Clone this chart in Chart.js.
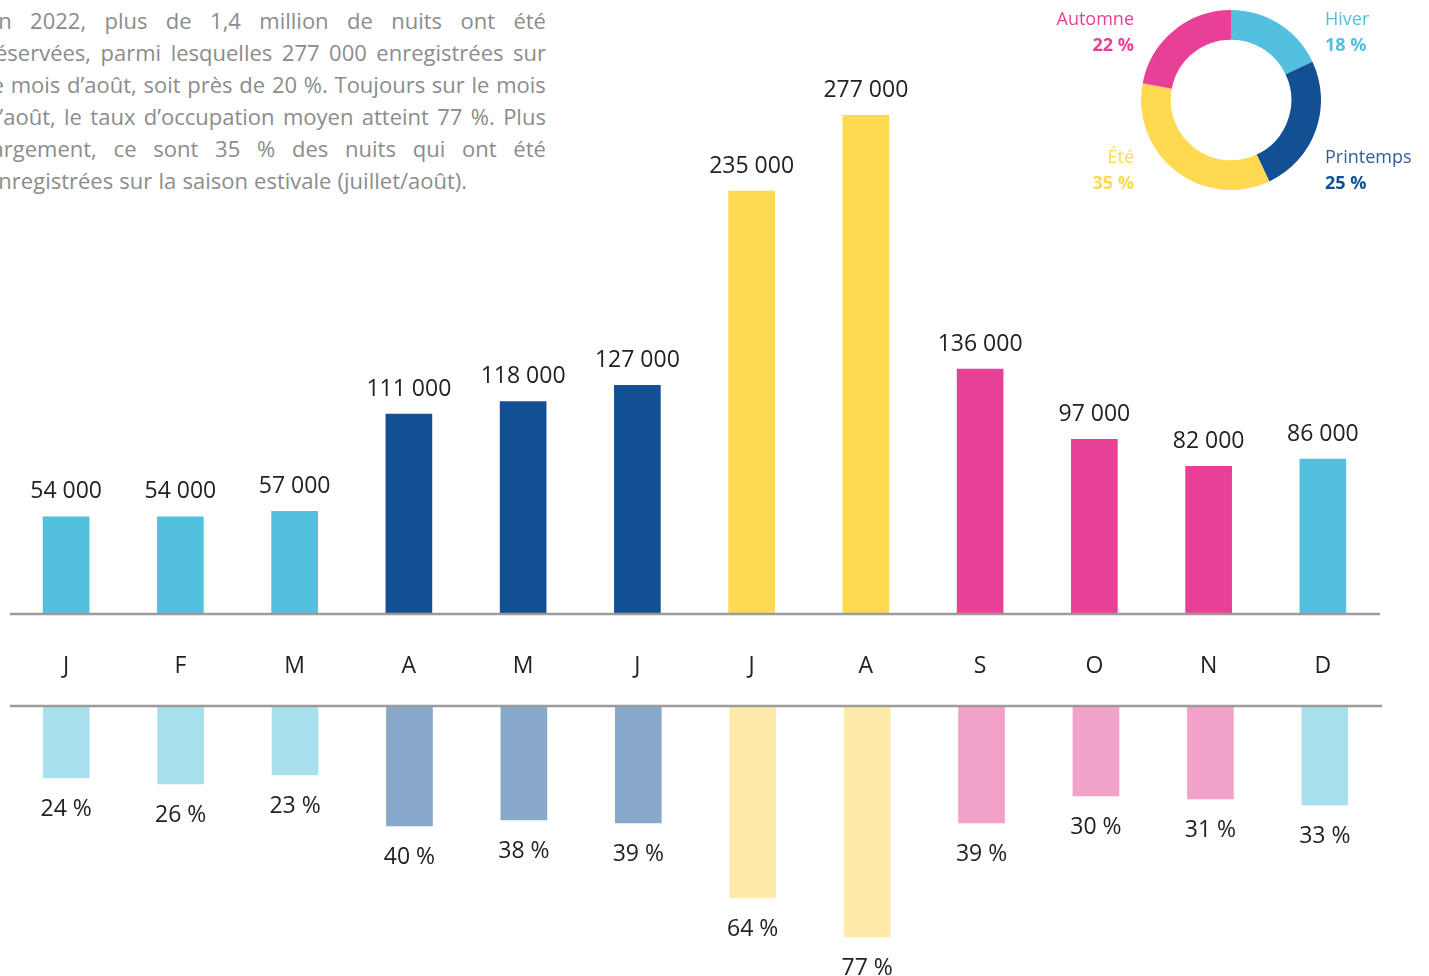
<!DOCTYPE html>
<html lang="fr">
<head>
<meta charset="utf-8">
<script src="https://cdn.jsdelivr.net/npm/chart.js@4.4.1/dist/chart.umd.min.js"></script>
<style>
html,body{margin:0;padding:0;background:#fff;width:1429px;height:976px;overflow:hidden;position:relative;font-family:'Open Sans',sans-serif;}
canvas{position:absolute;}
#para{position:absolute;left:-14px;top:4px;width:560px;color:#8c8c8c;font-size:22px;line-height:32px;}
#para .ln{display:flex;justify-content:space-between;white-space:nowrap;height:32px;}
#para .ln.last{justify-content:flex-start;}
#para .ln.last span{margin-right:0.28em;}
.lbl{position:absolute;font-size:18px;line-height:26px;white-space:nowrap;}
.lbl b{font-weight:700;}
</style>
</head>
<body>
<div id="para"></div>
<canvas id="top" width="1429" height="976" style="left:0;top:0"></canvas>
<canvas id="bottom" width="1429" height="976" style="left:0;top:0"></canvas>
<canvas id="donut" width="180" height="180" style="left:1141px;top:10px"></canvas>
<div class="lbl" id="lbl0" style="left:1325px;top:5px;color:#52C0DE"></div>
<div class="lbl" id="lbl1" style="left:1325px;top:143px;color:#2E5F9A"></div>
<div class="lbl" id="lbl2" style="right:295px;top:143px;text-align:right;color:#FFD952"></div>
<div class="lbl" id="lbl3" style="right:295px;top:5px;text-align:right;color:#E84096"></div>
<script>
// ---------- DATA ----------
const months = ['J','F','M','A','M','J','J','A','S','O','N','D'];
const monthSeason = [0,0,0,1,1,1,2,2,3,3,3,0];
const nights = [54000,54000,57000,111000,118000,127000,235000,277000,136000,97000,82000,86000];
const occupancy = [24,26,23,40,38,39,64,77,39,30,31,33];
const seasons = ['Hiver','Printemps','Été','Automne'];
const seasonShares = [18,25,35,22];
const paragraphLines = [
  'En 2022, plus de 1,4 million de nuits ont été',
  'réservées, parmi lesquelles 277 000 enregistrées sur',
  'le mois d\u2019août, soit près de 20 %. Toujours sur le mois',
  'd\u2019août, le taux d\u2019occupation moyen atteint 77 %. Plus',
  'largement, ce sont 35 % des nuits qui ont été',
  'enregistrées sur la saison estivale (juillet/août).'
];

// ---------- STYLES ----------
const seasonColors = ['#52C0DE','#134F93','#FFD952','#E84096'];
const seasonLight = ['#A8E0EE','#88A8CA','#FEEBA9','#F2A1C9'];
const pctTextColors = ['#52C0DE','#134F93','#FFD952','#E84096'];
const FONT = "'Open Sans', sans-serif";

// paragraph
const para = document.getElementById('para');
paragraphLines.forEach((l,i)=>{
  const d = document.createElement('div');
  d.className = 'ln' + (i===paragraphLines.length-1 ? ' last' : '');
  l.split(' ').forEach(w=>{ const s=document.createElement('span'); s.textContent=w; d.appendChild(s); });
  para.appendChild(d);
});

// donut labels
seasons.forEach((s,i)=>{
  document.getElementById('lbl'+i).innerHTML = s + '<br><b style="color:'+pctTextColors[i]+'">' + seasonShares[i] + ' %</b>';
});

const fmtThousands = v => String(v).replace(/\B(?=(\d{3})+(?!\d))/g,' ');

const valueLabels = {
  id:'valueLabels',
  afterDatasetsDraw(chart, args, o){
    const ctx = chart.ctx, meta = chart.getDatasetMeta(0), data = chart.data.datasets[0].data;
    const y0 = chart.scales.y.getPixelForValue(0);
    ctx.save();
    ctx.strokeStyle = '#9b9b9b'; ctx.lineWidth = 2.5;
    ctx.beginPath(); ctx.moveTo(chart.chartArea.left+1, y0); ctx.lineTo(chart.chartArea.right, y0); ctx.stroke();
    ctx.font = '23px ' + FONT; ctx.fillStyle = '#222'; ctx.textAlign = 'center'; ctx.textBaseline = 'middle';
    meta.data.forEach((bar,i)=>{
      ctx.fillText(o.fmt(data[i]), bar.x, bar.y + o.offset);
      if (o.months) ctx.fillText(chart.data.labels[i], chart.scales.x.getPixelForValue(i), y0 + 52);
    });
    ctx.restore();
  }
};

Chart.defaults.font.family = FONT;

new Chart(document.getElementById('top'), {
  type:'bar',
  data:{ labels: months, datasets:[{ data: nights, backgroundColor: monthSeason.map(s=>seasonColors[s]), barThickness:46, borderWidth:0 }] },
  options:{
    responsive:false, animation:false,
    layout:{ padding:{ left:9, right:49, top:74, bottom:362 } },
    scales:{ x:{ display:false }, y:{ display:false, min:0, max:300000 } },
    plugins:{ legend:{display:false}, tooltip:{enabled:false},
      valueLabels:{ fmt: fmtThousands, offset:-25, months:true } }
  },
  plugins:[valueLabels]
});

new Chart(document.getElementById('bottom'), {
  type:'bar',
  data:{ labels: months, datasets:[{ data: occupancy, backgroundColor: monthSeason.map(s=>seasonLight[s]), barThickness:46, borderWidth:0 }] },
  options:{
    responsive:false, animation:false,
    layout:{ padding:{ left:9, right:47, top:706, bottom:30 } },
    scales:{ x:{ display:false }, y:{ display:false, reverse:true, min:0, max:80 } },
    plugins:{ legend:{display:false}, tooltip:{enabled:false},
      valueLabels:{ fmt: v => v + ' %', offset:31, months:false } }
  },
  plugins:[valueLabels]
});

new Chart(document.getElementById('donut'), {
  type:'doughnut',
  data:{ labels: seasons, datasets:[{ data: seasonShares, backgroundColor: seasonColors, borderWidth:0 }] },
  options:{
    responsive:false, animation:false, cutout:'67%',
    layout:{ padding:0 },
    plugins:{ legend:{display:false}, tooltip:{enabled:false} }
  }
});
</script>
</body>
</html>
